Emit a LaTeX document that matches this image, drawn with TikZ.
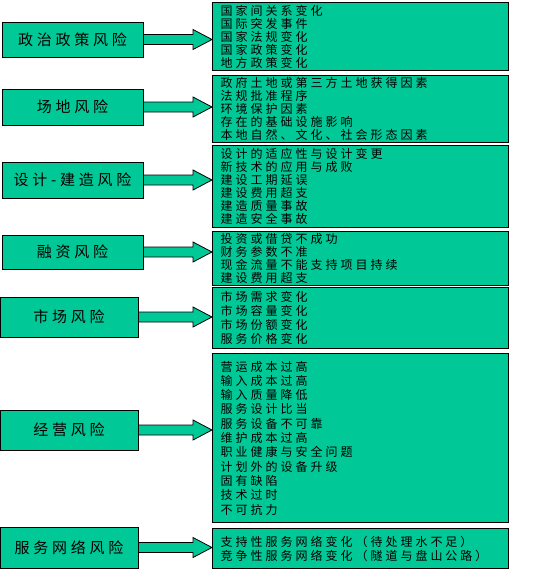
\documentclass[tikz,border=0pt]{standalone}
\usepackage{fontspec}
\newfontfamily\cjk[LetterSpace=25]{Noto Sans CJK SC}
\usetikzlibrary{calc}
\definecolor{riskgreen}{RGB}{0,200,150}

\begin{document}
\begin{tikzpicture}[x=1pt, y=-1pt,
lbox/.style={draw, fill=riskgreen, line width=1pt, minimum width=141pt, minimum height=36pt, inner sep=0pt, font=\cjk\fontsize{15}{18}\selectfont},
rbox/.style={draw, fill=riskgreen, line width=1pt, anchor=north west, text width=280pt, inner xsep=8pt, inner ysep=0pt, align=left, font=\cjk\fontsize{12}{#1}\selectfont},
rbox/.default=13,
arrow/.style={draw, fill=riskgreen, line width=0.8pt}
]
\useasboundingbox (0,0) rectangle (543,574);

% risk categories
\node[lbox, minimum height=35pt] (l1) at (72.5,39.5) {政治政策风险};
\node[lbox] (l2) at (72.5,107) {场地风险};
\node[lbox] (l3) at (72.5,180) {设计-建造风险};
\node[lbox, minimum height=34pt] (l4) at (72.5,252) {融资风险};
\node[lbox, minimum width=138pt, minimum height=40pt] (l5) at (69,317) {市场风险};
\node[lbox, minimum width=138pt, minimum height=40pt] (l6) at (69,430) {经营风险};
\node[lbox, minimum width=138pt, minimum height=41pt] (l7) at (69,547.5) {服务网络风险};

% risk factors
\node[rbox, minimum height=68pt] (r1) at (212,2) {国家间关系变化\\国际突发事件\\国家法规变化\\国家政策变化\\地方政策变化};
\node[rbox, minimum height=67pt] (r2) at (212,75) {政府土地或第三方土地获得因素\\法规批准程序\\环境保护因素\\存在的基础设施影响\\本地自然、文化、社会形态因素};
\node[rbox, minimum height=82pt] (r3) at (212,145) {设计的适应性与设计变更\\新技术的应用与成败\\建设工期延误\\建设费用超支\\建造质量事故\\建造安全事故};
\node[rbox, minimum height=54pt] (r4) at (212,231) {投资或借贷不成功\\财务参数不准\\现金流量不能支持项目持续\\建设费用超支};
\node[rbox=14, minimum height=61pt] (r5) at (212,287) {市场需求变化\\市场容量变化\\市场份额变化\\服务价格变化};
\node[rbox=14.3, minimum height=169pt] (r6) at (212,353) {营运成本过高\\输入成本过高\\输入质量降低\\服务设计比当\\服务设备不可靠\\维护成本过高\\职业健康与安全问题\\计划外的设备升级\\固有缺陷\\技术过时\\不可抗力};
\node[rbox=14, minimum height=40pt] (r7) at (212,528) {支持性服务网络变化（待处理水不足）\\竞争性服务网络变化（隧道与盘山公路）};

% block arrows
\foreach \i in {1,...,7}
  \path[arrow] ($(l\i.east)+(0,-5)$) -- ($(r\i.west |- l\i.east)+(-19,-5)$) -- ++(0,-5)
    -- (r\i.west |- l\i.east) -- ($(r\i.west |- l\i.east)+(-19,10)$) -- ++(0,-5)
    -- ($(l\i.east)+(0,5)$) -- cycle;
\end{tikzpicture}
\end{document}
